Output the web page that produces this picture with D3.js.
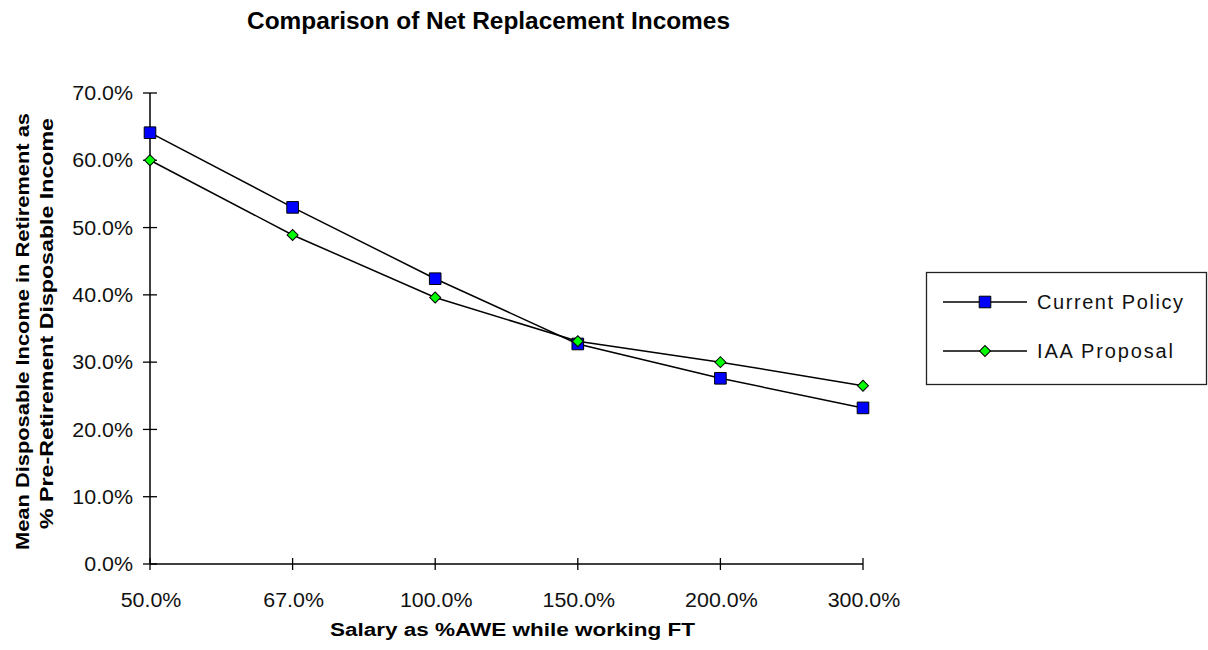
<!DOCTYPE html>
<html>
<head>
<meta charset="utf-8">
<script src="https://cdn.jsdelivr.net/npm/d3@7"></script>
<style>
  html, body { margin: 0; padding: 0; background: #fff; }
  svg { display: block; font-family: Arial, "Liberation Sans", sans-serif; }
</style>
</head>
<body>
<svg id="chart" width="1208" height="650"></svg>
<script>
// Salary bands (as % of average weekly earnings)
const categories = ["50.0%", "67.0%", "100.0%", "150.0%", "200.0%", "300.0%"];
// Net replacement income, % of pre-retirement disposable income
const currentPolicy = [64.1, 53.0, 42.4, 32.7, 27.6, 23.2];
const iaaProposal   = [60.0, 48.9, 39.6, 33.1, 30.0, 26.5];
const yTicks = [0, 10, 20, 30, 40, 50, 60, 70];

const svg = d3.select("#chart");

const plot = { left: 150, right: 863, top: 93, bottom: 564 };

const x = d3.scalePoint().domain(categories).range([plot.left, plot.right]);
const y = d3.scaleLinear().domain([0, 70]).range([plot.bottom, plot.top]);

const TICK_FONT = 20;
const TICK_STRETCH = 1.07; // tick labels are drawn slightly wide

// Title
svg.append("text")
  .attr("x", 247).attr("y", 29)
  .attr("font-size", 23).attr("font-weight", "bold")
  .attr("textLength", 483).attr("lengthAdjust", "spacingAndGlyphs")
  .text("Comparison of Net Replacement Incomes");

// Y axis with crossing tick marks
const yAxis = svg.append("g").attr("transform", `translate(${plot.left},0)`);
yAxis.append("line")
  .attr("x1", 0).attr("x2", 0).attr("y1", y(70)).attr("y2", y(0))
  .attr("stroke", "#000").attr("stroke-width", 1.5);
yAxis.selectAll("line.tick").data(yTicks).join("line")
  .attr("class", "tick")
  .attr("x1", -7).attr("x2", 7)
  .attr("y1", d => y(d)).attr("y2", d => y(d))
  .attr("stroke", "#000").attr("stroke-width", 1.3);
yAxis.selectAll("text").data(yTicks).join("text")
  .attr("transform", d => `translate(-17,${y(d)}) scale(${TICK_STRETCH},1)`)
  .attr("dy", "0.36em")
  .attr("text-anchor", "end")
  .attr("font-size", TICK_FONT)
  .attr("fill", "#111")
  .text(d => d3.format(".1f")(d) + "%");

// X axis with crossing tick marks
const xAxis = svg.append("g").attr("transform", `translate(0,${plot.bottom})`);
xAxis.append("line")
  .attr("x1", plot.left).attr("x2", plot.right).attr("y1", 0).attr("y2", 0)
  .attr("stroke", "#000").attr("stroke-width", 1.5);
xAxis.selectAll("line.tick").data(categories).join("line")
  .attr("class", "tick")
  .attr("x1", d => x(d)).attr("x2", d => x(d))
  .attr("y1", -6).attr("y2", 6)
  .attr("stroke", "#000").attr("stroke-width", 1.3);
xAxis.selectAll("text").data(categories).join("text")
  .attr("transform", d => `translate(${x(d) + 1},43) scale(${TICK_STRETCH},1)`)
  .attr("text-anchor", "middle")
  .attr("font-size", TICK_FONT)
  .attr("fill", "#111")
  .text(d => d);

// Axis titles
svg.append("text")
  .attr("x", 330).attr("y", 636)
  .attr("font-size", 18).attr("font-weight", "bold")
  .attr("textLength", 365).attr("lengthAdjust", "spacingAndGlyphs")
  .text("Salary as %AWE while working FT");

// Rotated two-line y title; text runs bottom to top
const yTitle = svg.append("g").attr("transform", "rotate(-90)");
yTitle.append("text")
  .attr("x", -550).attr("y", 29)
  .attr("font-size", 18).attr("font-weight", "bold")
  .attr("textLength", 437).attr("lengthAdjust", "spacingAndGlyphs")
  .text("Mean Disposable Income in Retirement as");
yTitle.append("text")
  .attr("x", -529).attr("y", 53)
  .attr("font-size", 18).attr("font-weight", "bold")
  .attr("textLength", 411).attr("lengthAdjust", "spacingAndGlyphs")
  .text("% Pre-Retirement Disposable Income");

// Series
const series = [
  { name: "Current Policy", values: currentPolicy, fill: "#0000ff", size: 135, rot: 0, labelWidth: 146 },
  { name: "IAA Proposal",   values: iaaProposal,   fill: "#00ff00", size: 60,  rot: 45, labelWidth: 136 }
];

const line = d3.line()
  .x((d, i) => x(categories[i]))
  .y(d => y(d));

series.forEach(s => {
  svg.append("path")
    .attr("d", line(s.values))
    .attr("fill", "none")
    .attr("stroke", "#000")
    .attr("stroke-width", 1.5);
});

series.forEach(s => {
  svg.append("g").selectAll("path").data(s.values).join("path")
    .attr("transform", (d, i) => `translate(${x(categories[i])},${y(d)}) rotate(${s.rot})`)
    .attr("d", d3.symbol().type(d3.symbolSquare).size(s.size))
    .attr("fill", s.fill)
    .attr("stroke", "#000")
    .attr("stroke-width", 1);
});

// Legend
const legend = svg.append("g");
legend.append("rect")
  .attr("x", 926.5).attr("y", 272.5)
  .attr("width", 280).attr("height", 112)
  .attr("fill", "#fff").attr("stroke", "#222").attr("stroke-width", 1.3);

series.forEach((s, i) => {
  const ly = 302 + i * 49;
  legend.append("line")
    .attr("x1", 943).attr("x2", 1027).attr("y1", ly).attr("y2", ly)
    .attr("stroke", "#000").attr("stroke-width", 1.5);
  legend.append("path")
    .attr("transform", `translate(985,${ly}) rotate(${s.rot})`)
    .attr("d", d3.symbol().type(d3.symbolSquare).size(s.size))
    .attr("fill", s.fill).attr("stroke", "#000").attr("stroke-width", 1);
  legend.append("text")
    .attr("x", 1037).attr("y", ly).attr("dy", "0.36em")
    .attr("font-size", 20)
    .attr("textLength", s.labelWidth).attr("lengthAdjust", "spacing")
    .attr("fill", "#111")
    .text(s.name);
});
</script>
</body>
</html>
